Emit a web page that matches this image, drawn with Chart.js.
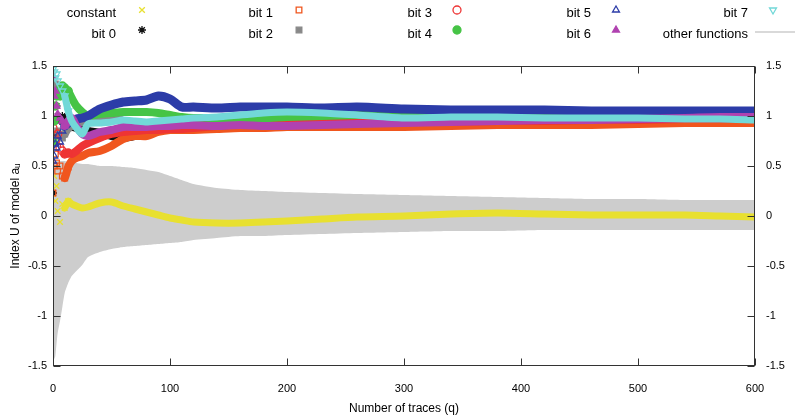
<!DOCTYPE html>
<html><head><meta charset="utf-8">
<script src="https://cdn.jsdelivr.net/npm/chart.js"></script>
<style>html,body{margin:0;padding:0;background:#fff}canvas{display:block}</style>
</head><body>
<canvas id="c" width="795" height="420"></canvas>
<script>
// ---- data ----
const Q = [0,1,2,3,4,6,8,10,13,16,20,25,30,40,50,60,70,80,90,100,110,120,140,160,180,200,230,260,300,340,380,420,460,500,540,570,600];
const CONSTANT = [0.22,0.4,0.15,0.3,0.05,-0.06,0.12,0.08, 0.15,0.12,0.1,0.08,0.09, 0.13,0.14,0.1,0.07,0.04,0.01,-0.02, -0.04,-0.06,-0.07,-0.07,-0.06,-0.05,-0.03,-0.01, 0.0,0.02,0.03,0.02,0.01,0.01,0.01,0.0,-0.01];
const BIT0 = [0.23,0.8,1.3,1.1,1.0,0.95,1.0,0.98, 0.93,0.9,0.88,0.87,0.85, 0.83,0.8,0.78,0.8,0.84,0.87,0.88, 0.89,0.9,0.91,0.92,0.92,0.93,0.93,0.94, 0.94,0.95,0.95,0.96,0.96,0.96,0.97,0.97,0.97];
const BIT1 = [0.23,0.5,0.62,0.53,0.45,0.5,0.4,0.38, 0.49,0.55,0.58,0.6,0.63, 0.65,0.7,0.77,0.8,0.8,0.84,0.86, 0.86,0.86,0.87,0.88,0.88,0.89,0.89,0.89, 0.89,0.9,0.91,0.91,0.91,0.92,0.93,0.93,0.93];
const BIT2 = [0.72,1.3,1.32,1.2,0.85,0.8,0.78,0.82, 0.88,0.9,0.92,0.94,0.96, 0.98,1.0,0.95,0.9,0.92,0.94,0.95, 0.95,0.96,0.96,0.96,0.97,0.97,0.97,0.97, 0.97,0.97,0.98,0.98,0.98,0.98,0.98,0.98,0.98];
const BIT3 = [0.88,0.8,0.75,0.7,0.82,0.68,0.65,0.62, 0.63,0.62,0.65,0.7,0.73, 0.78,0.82,0.84,0.85,0.86,0.86,0.87, 0.87,0.88,0.9,0.92,0.93,0.93,0.93,0.93, 0.94,0.94,0.95,0.95,0.96,0.96,0.97,0.97,0.97];
const BIT4 = [0.75,0.95,1.1,1.2,1.25,1.2,1.3,1.28, 1.25,1.18,1.1,1.04,1.0, 1.02,1.03,1.04,1.04,1.04,1.03,1.01, 0.99,0.98,0.98,0.98,0.98,0.99,1.0,1.01, 1.02,1.03,1.03,1.03,1.04,1.04,1.05,1.05,1.05];
const BIT5 = [0.55,0.6,0.72,0.68,0.8,0.74,0.85,0.9, 0.93,0.95,0.97,0.98,1.0, 1.07,1.11,1.14,1.15,1.16,1.2,1.17, 1.09,1.09,1.08,1.09,1.09,1.09,1.08,1.09, 1.07,1.06,1.06,1.06,1.05,1.05,1.05,1.05,1.05];
const BIT6 = [1.4,1.2,1.25,1.1,1.02,0.98,0.95,0.9, 0.95,0.98,0.9,0.82,0.8, 0.84,0.86,0.89,0.89,0.89,0.9,0.9, 0.91,0.91,0.9,0.91,0.9,0.9,0.91,0.92, 0.93,0.94,0.95,0.96,0.96,0.97,0.98,0.99,0.99];
const BIT7 = [1.47,1.44,1.38,1.42,1.35,1.3,1.25,1.2, 1.05,0.95,0.88,0.82,0.92, 0.93,0.94,0.96,0.95,0.94,0.95,0.96, 0.97,0.98,0.99,1.01,1.03,1.04,1.03,1.01, 0.98,0.99,0.99,0.98,0.98,0.98,0.97,0.97,0.96];
const OTHER_HI = [0.6,0.58,0.56,0.55,0.55,0.55,0.55,0.55, 0.54,0.53,0.53,0.52,0.52, 0.5,0.5,0.49,0.48,0.46,0.44,0.4, 0.36,0.32,0.28,0.26,0.25,0.24,0.23,0.22, 0.21,0.2,0.19,0.18,0.17,0.17,0.16,0.16,0.16];
const OTHER_LO = [-1.45,-1.43,-1.4,-1.28,-1.17,-1.05,-0.91,-0.77, -0.67,-0.6,-0.55,-0.49,-0.41, -0.36,-0.33,-0.31,-0.3,-0.29,-0.28,-0.27, -0.26,-0.24,-0.22,-0.2,-0.2,-0.19,-0.18,-0.17, -0.16,-0.15,-0.15,-0.14,-0.14,-0.14,-0.14,-0.14,-0.14];
const X_TICKS = [0,100,200,300,400,500,600];
const Y_TICKS = [-1.5,-1,-0.5,0,0.5,1,1.5];
const LEGEND_LABELS = ['constant','bit 0','bit 1','bit 2','bit 3','bit 4','bit 5','bit 6','bit 7','other functions'];
const SERIES = [CONSTANT,BIT0,BIT1,BIT2,BIT3,BIT4,BIT5,BIT6,BIT7];

// ---- styles ----
const FONT = '"Liberation Sans", Arial, Helvetica, sans-serif';
const BAND_GRAY = '#cdcdcd';
const STYLES = [
  {color:'#e8e030', pointStyle:'crossRot', hollow:false, width:7},
  {color:'#111111', pointStyle:'star', hollow:false, width:8},
  {color:'#f0561e', pointStyle:'rect', hollow:true, width:8},
  {color:'#888888', pointStyle:'rect', hollow:false, width:8},
  {color:'#ee3434', pointStyle:'circle', hollow:true, width:8},
  {color:'#46c446', pointStyle:'circle', hollow:false, width:8},
  {color:'#2c3ca8', pointStyle:'triangle', hollow:true, width:9},
  {color:'#b042b0', pointStyle:'triangle', hollow:false, width:8},
  {color:'#72d8d8', pointStyle:'triangle', hollow:true, width:7, rotation:180}
];

Chart.defaults.font.family = FONT;
Chart.defaults.color = '#000';

const pts = arr => Q.map((q,i)=>({x:q,y:arr[i]}));

const datasets = [
  {label:'other hi', data:pts(OTHER_HI), borderWidth:0, borderColor:BAND_GRAY, pointRadius:0, backgroundColor:BAND_GRAY, fill:'+1', order:50, tension:0.2},
  {label:'other lo', data:pts(OTHER_LO), borderWidth:0, borderColor:BAND_GRAY, pointRadius:0, fill:false, order:50, tension:0.2}
];
SERIES.forEach((arr,k)=>{
  const st = STYLES[k];
  datasets.push({
    label: LEGEND_LABELS[k],
    data: pts(arr),
    borderColor: st.color,
    borderWidth: st.width,
    borderJoinStyle:'round', borderCapStyle:'round',
    tension:0.25,
    fill:false,
    pointStyle: st.pointStyle,
    pointRotation: st.rotation||0,
    pointRadius: c => (c.raw && c.raw.x <= 13) ? 4 : 0,
    pointBorderColor: st.color,
    pointBackgroundColor: st.hollow ? 'rgba(0,0,0,0)' : st.color,
    pointBorderWidth: 1.3,
    order: 20-k,
    segment: { borderColor: c => c.p0.parsed.x < 10 ? 'rgba(0,0,0,0)' : undefined }
  });
});

const framePlugin = {
  id:'frame',
  afterDatasetsDraw(chart){
    const {ctx, chartArea:a, scales} = chart;
    const x = scales.x, y = scales.y;
    ctx.save();
    ctx.strokeStyle = '#333'; ctx.lineWidth = 1;
    const L = Math.round(a.left)+0.5, R = Math.round(a.right)-0.5, T = Math.round(a.top)+0.5, B = Math.round(a.bottom)-0.5;
    ctx.strokeRect(L, T, R-L, B-T);
    ctx.beginPath();
    X_TICKS.forEach(v=>{
      const px = Math.round(x.getPixelForValue(v))+0.5;
      ctx.moveTo(px,B); ctx.lineTo(px,B-7);
      ctx.moveTo(px,T); ctx.lineTo(px,T+7);
    });
    Y_TICKS.forEach(v=>{
      const py = Math.round(y.getPixelForValue(v))+0.5;
      ctx.moveTo(L,py); ctx.lineTo(L+7,py);
      ctx.moveTo(R,py); ctx.lineTo(R-7,py);
    });
    ctx.stroke();
    ctx.restore();
  },
  afterDraw(chart){
    const ctx = chart.ctx;
    const textRight=[116,273,432,591,748], markX=[142,299,457,616,773], textY=[13,34], markY=[10,30];
    ctx.save();
    ctx.font = '13px '+FONT; ctx.textAlign='right'; ctx.textBaseline='middle';
    for (let i=0;i<LEGEND_LABELS.length;i++){
      const col=Math.floor(i/2), row=i%2;
      ctx.fillStyle='#000';
      ctx.fillText(LEGEND_LABELS[i], textRight[col], textY[row]);
      if (i<STYLES.length){
        const st=STYLES[i];
        ctx.strokeStyle=st.color;
        ctx.fillStyle= st.hollow?'rgba(0,0,0,0)':st.color;
        ctx.lineWidth=1.3;
        Chart.helpers.drawPoint(ctx,{pointStyle:st.pointStyle, rotation:st.rotation||0, radius:4, borderWidth:1.3}, markX[col], markY[row]);
      } else {
        ctx.strokeStyle=BAND_GRAY; ctx.lineWidth=1.5;
        ctx.beginPath(); ctx.moveTo(755,markY[row]+2); ctx.lineTo(795,markY[row]+2); ctx.stroke();
      }
    }
    ctx.restore();
  }
};

const yTicks = s => { s.ticks = Y_TICKS.map(v=>({value:v})); };
new Chart(document.getElementById('c'), {
  type:'line',
  data:{datasets},
  options:{
    responsive:false, animation:false, devicePixelRatio:1,
    layout:{padding:{top:66,left:0,right:0,bottom:0}},
    plugins:{legend:{display:false}, tooltip:{enabled:false}},
    scales:{
      x:{type:'linear', min:0, max:600,
         afterBuildTicks: s => { s.ticks = X_TICKS.map(v=>({value:v})); },
         grid:{display:false, drawTicks:false}, border:{display:false},
         ticks:{padding:16, font:{size:11}, color:'#000', maxRotation:0, autoSkip:false},
         title:{display:true, text:'Number of traces (q)', font:{size:12}, color:'#000', padding:{top:0,bottom:4}},
         afterFit: s => { s.height = 54; }},
      y:{type:'linear', position:'left', min:-1.5, max:1.5,
         afterBuildTicks: yTicks,
         grid:{display:false, drawTicks:false}, border:{display:false},
         ticks:{padding:6, font:{size:11}, color:'#000', callback: v => String(v)},
         title:{display:true, text:'Index U of model aᵤ', font:{size:12}, color:'#000', padding:{top:8,bottom:0}},
         afterFit: s => { s.width = 53; }},
      y2:{type:'linear', position:'right', min:-1.5, max:1.5,
         afterBuildTicks: yTicks,
         grid:{display:false, drawTicks:false}, border:{display:false},
         ticks:{padding:11, font:{size:11}, color:'#000', callback: v => String(v)},
         afterFit: s => { s.width = 40; }}
    }
  },
  plugins:[framePlugin]
});
</script>
</body></html>
